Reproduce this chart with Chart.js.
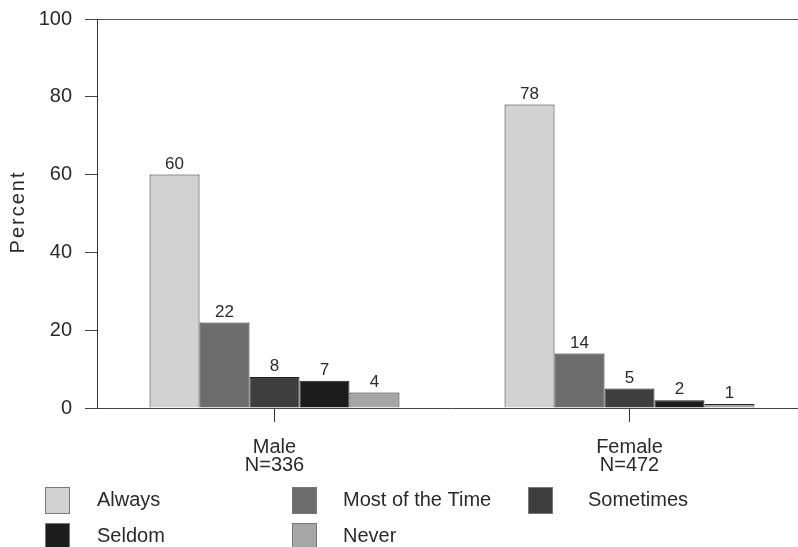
<!DOCTYPE html>
<html>
<head>
<meta charset="utf-8">
<script src="https://cdn.jsdelivr.net/npm/chart.js@4/dist/chart.umd.min.js"></script>
<style>
  html, body { margin: 0; padding: 0; background: #ffffff; overflow: hidden; width: 798px; height: 547px; }
  #wrap { position: relative; width: 807px; height: 547px; }
</style>
</head>
<body>
<div id="wrap"><canvas id="c"></canvas></div>
<script>
// ---- data ----
const categories = [["Male", "N=336"], ["Female", "N=472"]];
const seriesNames = ["Always", "Most of the Time", "Sometimes", "Seldom", "Never"];
const always      = [60, 78];
const mostOfTime  = [22, 14];
const sometimes   = [8, 5];
const seldom      = [7, 2];
const never       = [4, 1];
const yTicks      = [0, 20, 40, 60, 80, 100];
const yTitle      = "Percent";

const seriesValues = [always, mostOfTime, sometimes, seldom, never];
const seriesColors = ["#d2d2d2", "#6c6c6c", "#3e3e3e", "#1c1c1c", "#a6a6a6"];
const FONT = "'Liberation Sans', Arial, Helvetica, sans-serif";
const TEXT = "#2a2a2a";

// legend layout (grid of 3 columns, 2 rows)
const legendCols = [{box: 45, text: 97}, {box: 292, text: 343}, {box: 528, text: 588}];
const legendRows = [500, 536];

const valueLabels = {
  id: 'valueLabels',
  afterDatasetsDraw(chart) {
    const ctx = chart.ctx;
    ctx.save();
    ctx.font = "17px " + FONT;
    ctx.fillStyle = TEXT;
    ctx.textAlign = 'center';
    ctx.textBaseline = 'bottom';
    chart.data.datasets.forEach((ds, i) => {
      chart.getDatasetMeta(i).data.forEach((bar, j) => {
        ctx.fillText(String(ds.data[j]), bar.x, bar.y - 2);
      });
    });
    ctx.restore();
  }
};

const extras = {
  id: 'extras',
  afterDraw(chart) {
    const ctx = chart.ctx;
    ctx.save();
    ctx.translate(18, 212);
    ctx.rotate(-Math.PI / 2);
    ctx.font = "20px " + FONT;
    if ('letterSpacing' in ctx) ctx.letterSpacing = '2px';
    ctx.fillStyle = TEXT;
    ctx.textAlign = 'center';
    ctx.textBaseline = 'middle';
    ctx.fillText(yTitle, 0, 0);
    ctx.restore();

    ctx.save();
    ctx.font = "20px " + FONT;
    ctx.textBaseline = 'middle';
    ctx.textAlign = 'left';
    chart.data.datasets.forEach((ds, i) => {
      const col = legendCols[i % 3];
      const y = legendRows[Math.floor(i / 3)];
      ctx.fillStyle = ds.backgroundColor;
      ctx.fillRect(col.box, y - 13, 25, 27);
      ctx.strokeStyle = '#777';
      ctx.lineWidth = 1;
      ctx.strokeRect(col.box + 0.5, y - 12.5, 24, 26);
      ctx.fillStyle = TEXT;
      ctx.fillText(ds.label, col.text, y);
    });
    ctx.restore();
  }
};

new Chart(document.getElementById('c'), {
  type: 'bar',
  data: {
    labels: categories,
    datasets: seriesNames.map((name, i) => ({
      label: name,
      data: seriesValues[i],
      backgroundColor: seriesColors[i],
      borderColor: '#222',
      borderWidth: 1,
      categoryPercentage: 0.704,
      barPercentage: 1.0
    }))
  },
  options: {
    responsive: true,
    maintainAspectRatio: false,
    animation: false,
    layout: { padding: { top: 19, right: 0, bottom: 0, left: 0 } },
    plugins: {
      legend: { display: false },
      tooltip: { enabled: false },
      title: { display: false }
    },
    scales: {
      x: {
        afterFit(s) { s.height = 139; s.paddingLeft = 0; s.paddingRight = 0; },
        grid: {
          offset: false,
          drawOnChartArea: false,
          drawTicks: true,
          tickLength: 14,
          tickColor: '#333',
          color: 'transparent'
        },
        border: { display: true, color: '#444', width: 1 },
        ticks: {
          color: TEXT,
          padding: 16,
          font: { family: FONT, size: 20, lineHeight: 0.9 },
          maxRotation: 0
        }
      },
      y: {
        min: 0,
        max: 100,
        afterFit(s) { s.width = 97; s.paddingTop = 0; s.paddingBottom = 0; },
        afterBuildTicks(s) { s.ticks = yTicks.map(v => ({ value: v })); },
        grid: {
          drawTicks: true,
          tickLength: 12,
          tickColor: '#444',
          color: ctx => (ctx.tick && ctx.tick.value === 100) ? '#555' : 'transparent'
        },
        border: { display: true, color: '#333', width: 1 },
        ticks: {
          color: TEXT,
          padding: 13,
          font: { family: FONT, size: 20 }
        },
        title: { display: false }
      }
    }
  },
  plugins: [valueLabels, extras]
});
</script>
</body>
</html>
